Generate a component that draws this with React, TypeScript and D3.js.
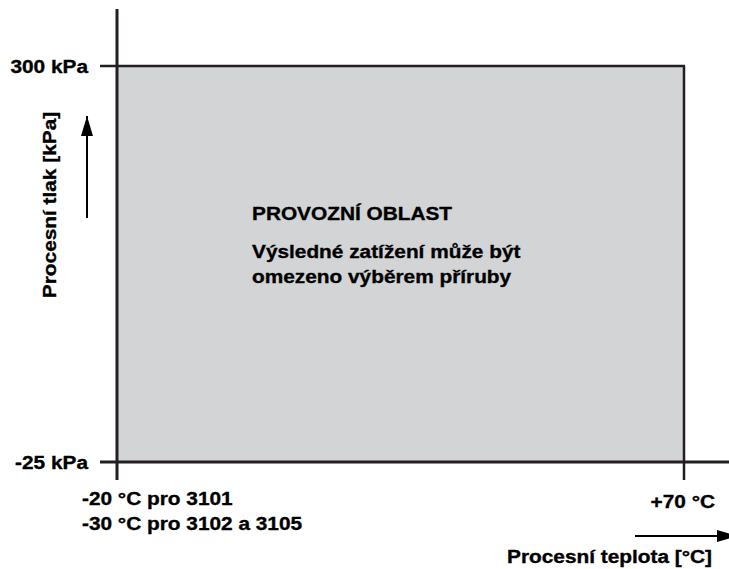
import React, { useEffect, useRef } from 'react'
import * as d3 from 'd3'

// operating range
const tempRange = [-20, 70]
const pressRange = [-25, 300]
const yTickLabels = ['300 kPa', '-25 kPa']
const xTickLeft = ['-20 °C pro 3101', '-30 °C pro 3102 a 3105']
const xTickRight = '+70 °C'
const areaTitle = 'PROVOZNÍ OBLAST'
const areaNote = ['Výsledné zatížení může být', 'omezeno výběrem příruby']
const xAxisLabel = 'Procesní teplota [°C]'
const yAxisLabel = 'Procesní tlak [kPa]'

const App = () => {
  const ref = useRef(null)

  useEffect(() => {
    const width = 729
    const height = 569
    const font = '"Liberation Sans", Arial, sans-serif'
    const stretch = 1.12

    document.body.style.margin = '0'
    document.body.style.overflow = 'hidden'
    d3.select(ref.current).selectAll('*').remove()

    const svg = d3.select(ref.current)
      .append('svg')
      .attr('width', width)
      .attr('height', height)
      .style('display', 'block')
      .style('font-family', font)
      .style('font-weight', 'bold')

    const x = d3.scaleLinear().domain(tempRange).range([117, 684])
    const y = d3.scaleLinear().domain(pressRange).range([462, 66])

    const ink = '#231f20'

    // text helper, font in the source is a bit wider and heavier than Arial
    const label = (tx, ty, str, anchor = 'start', rot = 0) =>
      svg.append('text')
        .attr('transform', `translate(${tx},${ty}) rotate(${rot}) scale(${stretch},1)`)
        .attr('text-anchor', anchor)
        .attr('font-size', 18.6)
        .attr('fill', '#000')
        .attr('stroke', '#000')
        .attr('stroke-width', 0.35)
        .text(str)

    // area
    svg.append('rect')
      .attr('x', x(tempRange[0]))
      .attr('y', y(pressRange[1]))
      .attr('width', x(tempRange[1]) - x(tempRange[0]))
      .attr('height', y(pressRange[0]) - y(pressRange[1]))
      .attr('fill', '#d3d4d6')

    // top boundary
    svg.append('line')
      .attr('x1', 100).attr('x2', x(tempRange[1]) + 1)
      .attr('y1', y(pressRange[1])).attr('y2', y(pressRange[1]))
      .attr('stroke', ink).attr('stroke-width', 2.5)

    // right boundary
    svg.append('line')
      .attr('x1', x(tempRange[1])).attr('x2', x(tempRange[1]))
      .attr('y1', y(pressRange[1])).attr('y2', 480)
      .attr('stroke', ink).attr('stroke-width', 2.5)

    // y axis
    svg.append('line')
      .attr('x1', x(tempRange[0])).attr('x2', x(tempRange[0]))
      .attr('y1', 9).attr('y2', 480)
      .attr('stroke', ink).attr('stroke-width', 3)

    // x axis
    svg.append('line')
      .attr('x1', 100).attr('x2', width)
      .attr('y1', y(pressRange[0])).attr('y2', y(pressRange[0]))
      .attr('stroke', ink).attr('stroke-width', 3)

    // y tick labels
    label(88, y(pressRange[1]) + 7, yTickLabels[0], 'end')
    label(88, y(pressRange[0]) + 7, yTickLabels[1], 'end')

    // x tick labels
    xTickLeft.forEach((t, i) => label(82, 505 + i * 25, t))
    label(715, 508, xTickRight, 'end')

    // area text
    label(252, 220, areaTitle)
    areaNote.forEach((t, i) => label(252, 258 + i * 25, t))

    // arrow marker
    svg.append('defs').append('marker')
      .attr('id', 'arr')
      .attr('viewBox', '0 0 20 12')
      .attr('refX', 20).attr('refY', 6)
      .attr('markerWidth', 20).attr('markerHeight', 12)
      .attr('markerUnits', 'userSpaceOnUse')
      .attr('orient', 'auto')
      .append('path')
      .attr('d', 'M0,0L20,6L0,12Z')
      .attr('fill', '#000')

    // x axis label + arrow
    svg.append('line')
      .attr('x1', 635).attr('x2', 737)
      .attr('y1', 536).attr('y2', 536)
      .attr('stroke', '#000').attr('stroke-width', 2)
      .attr('marker-end', 'url(#arr)')

    label(712, 563, xAxisLabel, 'end')

    // y axis label + arrow
    svg.append('line')
      .attr('x1', 87).attr('x2', 87)
      .attr('y1', 218).attr('y2', 116)
      .attr('stroke', '#000').attr('stroke-width', 2)
      .attr('marker-end', 'url(#arr)')

    label(56, 205, yAxisLabel, 'middle', -90)
  }, [])

  return <div ref={ref}></div>
}

export default App
